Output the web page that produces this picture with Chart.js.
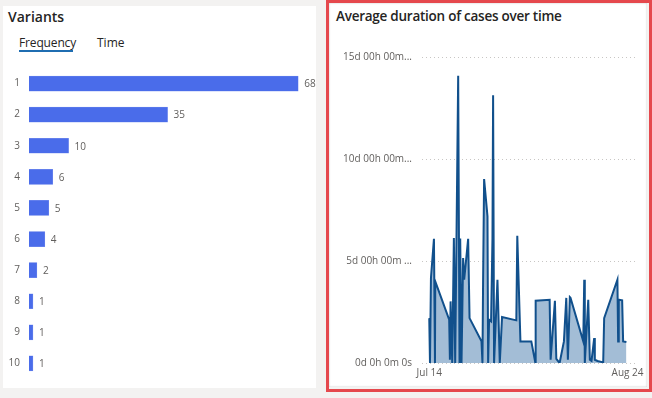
<!DOCTYPE html>
<html>
<head>
<meta charset="utf-8">
<script src="https://cdn.jsdelivr.net/npm/chart.js@4.4.1/dist/chart.umd.min.js"></script>
<style>
  html, body { margin:0; padding:0; width:652px; height:398px; background:#f3f2f1; overflow:hidden;
    font-family:"Segoe UI","Open Sans","Noto Sans",sans-serif; }
  .panel { position:absolute; background:#fff; }
  #left { left:3px; top:6px; width:313px; height:382px; }
  #rightBorder { position:absolute; left:326px; top:0px; width:320px; height:386px; border:3px solid #e5484d; }
  #right { left:329px; top:3px; width:318px; height:384px; box-shadow: inset 0 0 2px rgba(0,0,0,0.25); }
  .title { position:absolute; font-size:14px; font-weight:600; color:#252423; white-space:nowrap; }
  .tab { position:absolute; font-size:12px; color:#252423; white-space:nowrap; }
  canvas { position:absolute; }
</style>
</head>
<body>
<div class="panel" id="left"></div>
<div class="panel" id="right"></div>
<div id="rightBorder"></div>
<div class="title" style="left:8px; top:7px;">Variants</div>
<div class="tab" style="left:19px; top:34px; letter-spacing:-0.15px;">Frequency</div>
<div style="position:absolute; left:19px; top:50px; width:54px; height:2px; background:#1f6db1;"></div>
<div class="tab" style="left:97px; top:34px;">Time</div>
<div class="title" style="left:336px; top:7px; font-size:13.5px; letter-spacing:-0.25px;">Average duration of cases over time</div>
<div style="position:absolute; left:0; top:53px; width:320px; height:341px;"><canvas id="bars" width="320" height="341"></canvas></div>
<div style="position:absolute; left:330px; top:30px; width:318px; height:358px;"><canvas id="area" width="318" height="358"></canvas></div>
<script>
// ---- Variants (frequency) ----
const variantLabels = ["1","2","3","4","5","6","7","8","9","10"];
const variantCounts = [68, 35, 10, 6, 5, 4, 2, 1, 1, 1];

// ---- Average duration over time (x: days since Jul 14, y: days) ----
const durationDays = [0.0,0.15,0.35,0.97,1.18,1.24,4.12,4.27,4.41,4.75,5.09,5.36,5.98,6.26,6.4,6.67,7.0,7.22,8.04,8.33,10.8,11.0,11.13,11.34,12.04,12.17,12.37,12.78,13.07,13.2,13.4,14.1,14.58,15.05,18.0,18.2,18.85,21.1,21.94,22.0,24.89,25.09,25.98,26.27,26.95,27.84,28.33,28.66,29.07,29.2,31.84,32.04,32.16,32.87,33.2,33.55,34.1,34.23,34.78,35.96,36.16,38.9,39.05,39.18,39.88,40.08,40.76];
const durationValues = [2.2,0,4.17,6.09,0,4.0,2.12,0.16,3.02,0,6.13,0,14.08,0,6.1,0,5.15,4.08,6.09,2.2,1.06,0,4.08,9.02,7.19,0,2.12,2.04,6.13,13.12,0,4.08,0,2.25,2.09,6.24,1.06,1.06,0,3.05,3.1,0.16,3.05,0.2,0,1.06,3.19,0.16,3.23,3.2,1.06,4.08,0,3.1,0.16,0.1,1.22,0.16,0.1,0.03,2.2,4.08,1.06,3.1,3.07,1.06,1.03];
const xTickValues = [0, 41];
const xTickLabels = ["Jul 14", "Aug 24"];
const yTickValues = [0, 5, 10, 15];
const yTickLabels = ["0d 0h 0m 0s", "5d 00h 00m ...", "10d 00h 00m...", "15d 00h 00m..."];

const FONT = '"Segoe UI","Open Sans","Noto Sans",sans-serif';
const GREY = '#605e5c';

const valueLabelPlugin = {
  id: 'valueLabels',
  afterDatasetsDraw(chart) {
    const ctx = chart.ctx;
    const meta = chart.getDatasetMeta(0);
    ctx.save();
    ctx.font = '10px ' + FONT;
    ctx.fillStyle = GREY;
    ctx.textAlign = 'left';
    ctx.textBaseline = 'middle';
    meta.data.forEach((bar, i) => {
      ctx.fillText(String(chart.data.datasets[0].data[i]), bar.x + 6, bar.y + 1);
    });
    ctx.restore();
  }
};

new Chart(document.getElementById('bars'), {
  type: 'bar',
  data: {
    labels: variantLabels,
    datasets: [{ data: variantCounts, backgroundColor: '#4a6cea', borderColor: '#7d93ee', borderWidth: 0.5,
      barThickness: 15 }]
  },
  options: {
    indexAxis: 'y',
    responsive: false,
    animation: false,
    layout: { padding: 0 },
    plugins: { legend: { display: false }, tooltip: { enabled: false } },
    scales: {
      x: { display: false, min: 0, max: 73.5 },
      y: {
        grid: { display: false, drawTicks: false }, border: { display: false },
        ticks: { color: GREY, font: { size: 10, family: FONT }, padding: 9 },
        afterFit(s) { s.width = 29; }
      }
    }
  },
  plugins: [valueLabelPlugin]
});

new Chart(document.getElementById('area'), {
  type: 'line',
  data: {
    datasets: [{
      data: durationDays.map((d, i) => ({ x: d, y: durationValues[i] })),
      borderColor: '#11508c', borderWidth: 2, backgroundColor: '#a3bdd6',
      fill: 'origin', pointRadius: 0, tension: 0
    }]
  },
  options: {
    responsive: false,
    animation: false,
    layout: { padding: { top: 27, right: 10, left: 0, bottom: 5 } },
    plugins: { legend: { display: false }, tooltip: { enabled: false } },
    scales: {
      x: {
        type: 'linear', min: -1.5, max: 43.1,
        grid: { display: false, drawTicks: false }, border: { display: false },
        afterBuildTicks(s) { s.ticks = xTickValues.map(v => ({ value: v })); },
        ticks: { color: GREY, font: { size: 10, family: FONT }, padding: 4, maxRotation: 0,
          callback(v) { const i = xTickValues.indexOf(v); return i >= 0 ? xTickLabels[i] : ''; } }
      },
      y: {
        min: 0, max: 15,
        afterBuildTicks(s) { s.ticks = yTickValues.map(v => ({ value: v })); },
        grid: { color: '#c8c6c4', lineWidth: 1, drawTicks: false },
        border: { display: false, dash: [1, 3] },
        ticks: { color: GREY, font: { size: 10, family: FONT }, padding: 10,
          callback(v) { const i = yTickValues.indexOf(v); return i >= 0 ? yTickLabels[i] : ''; } },
        afterFit(s) { s.width = 92; }
      }
    }
  }
});
</script>
</body>
</html>
